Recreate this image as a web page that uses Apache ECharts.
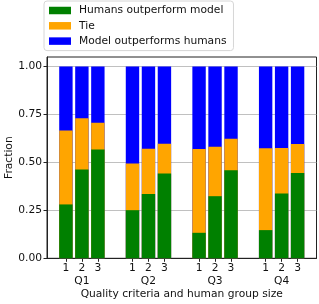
<!DOCTYPE html>
<html><head><meta charset="utf-8">
<script src="https://cdn.jsdelivr.net/npm/echarts@6/dist/echarts.min.js"></script>
<style>html,body{margin:0;padding:0;background:#fff}#c{width:319px;height:304px}</style>
</head><body><div id="c"></div>
<script>
var groups = ['Q1','Q2','Q3','Q4'];
var groupSizes = ['1','2','3'];
var humansOutperform = [0.281,0.463,0.568, 0.251,0.336,0.442, 0.133,0.324,0.459, 0.147,0.338,0.445];
var tie =              [0.385,0.268,0.139, 0.243,0.236,0.156, 0.437,0.258,0.165, 0.427,0.237,0.151];
var modelOutperforms = [0.334,0.269,0.293, 0.506,0.428,0.402, 0.430,0.418,0.376, 0.426,0.425,0.404];
var yTicks = [0, 0.25, 0.5, 0.75, 1.0];

var offset = 0.24;
var xs = [], labels = {};
groups.forEach(function(g, gi){
  groupSizes.forEach(function(s, si){
    var x = +(gi + (si-1)*offset).toFixed(3);
    xs.push(x);
    labels[x] = si === 1 ? s + '\n' + g : s;
  });
});
// cumulative tops (stack drawn by overlaying)
var topGreen = humansOutperform.slice();
var topTie = humansOutperform.map(function(v,i){ return v + tie[i]; });
var topModel = topTie.map(function(v,i){ return v + modelOutperforms[i]; });
function pts(arr){ return arr.map(function(v,i){ return [xs[i], v]; }); }
var font = 'DejaVu Sans';
var fs = 10.7;
var chart = echarts.init(document.getElementById('c'), null, {renderer:'canvas'});
var barW = 13.4;
chart.setOption({
  animation:false,
  textStyle:{fontFamily:font},
  grid:{left:47, right:2.5, top:57, bottom:45.7, outerBoundsMode:'none', containLabel:false, show:true, borderColor:'#222', borderWidth:1, backgroundColor:'transparent'},
  legend:{
    orient:'vertical', left:44, top:1,
    padding:[4,7,4,5], itemGap:4.3,
    itemWidth:22, itemHeight:7.5,
    borderColor:'#d6d6d6', borderWidth:1, borderRadius:3,
    icon:'rect',
    textStyle:{fontFamily:font, fontSize:fs, color:'#111', padding:[0,0,0,3]},
    data:['Humans outperform model','Tie','Model outperforms humans']
  },
  xAxis:{
    type:'value', min:-0.524, max:3.524,
    name:'Quality criteria and human group size', nameLocation:'middle', nameGap:30, nameMoveOverlap:false,
    nameTextStyle:{fontFamily:font, fontSize:fs, color:'#111'},
    axisLine:{show:true, onZero:false, lineStyle:{color:'#222'}},
    axisTick:{show:true, length:3.5, customValues:xs, lineStyle:{color:'#222'}},
    axisLabel:{customValues:xs, fontFamily:font, fontSize:fs, color:'#111', margin:3, lineHeight:13.5,
      formatter:function(v){ return labels[+(+v).toFixed(3)] || ''; }},
    splitLine:{show:false}
  },
  yAxis:{
    type:'value', min:0, max:1.05,
    name:'Fraction', nameLocation:'middle', nameGap:32, nameMoveOverlap:false,
    nameTextStyle:{fontFamily:font, fontSize:fs, color:'#111'},
    axisLine:{show:true, onZero:false, lineStyle:{color:'#222'}},
    axisTick:{show:true, length:3.5, customValues:yTicks, lineStyle:{color:'#222'}},
    axisLabel:{customValues:yTicks, fontFamily:font, fontSize:fs, color:'#111', margin:5,
      formatter:function(v){ return (+v).toFixed(2); }},
    splitLine:{show:true, customValues:yTicks, lineStyle:{color:'#b0b0b0', width:0.8}}
  },
  series:[
    {name:'Model outperforms humans', type:'bar', barWidth:barW, barGap:'-100%', itemStyle:{color:'#0000FF'}, data:pts(topModel), z:2},
    {name:'Tie', type:'bar', barWidth:barW, barGap:'-100%', itemStyle:{color:'#FFA500'}, data:pts(topTie), z:3},
    {name:'Humans outperform model', type:'bar', barWidth:barW, barGap:'-100%', itemStyle:{color:'#008000'}, data:pts(topGreen), z:4}
  ]
});
</script></body></html>
